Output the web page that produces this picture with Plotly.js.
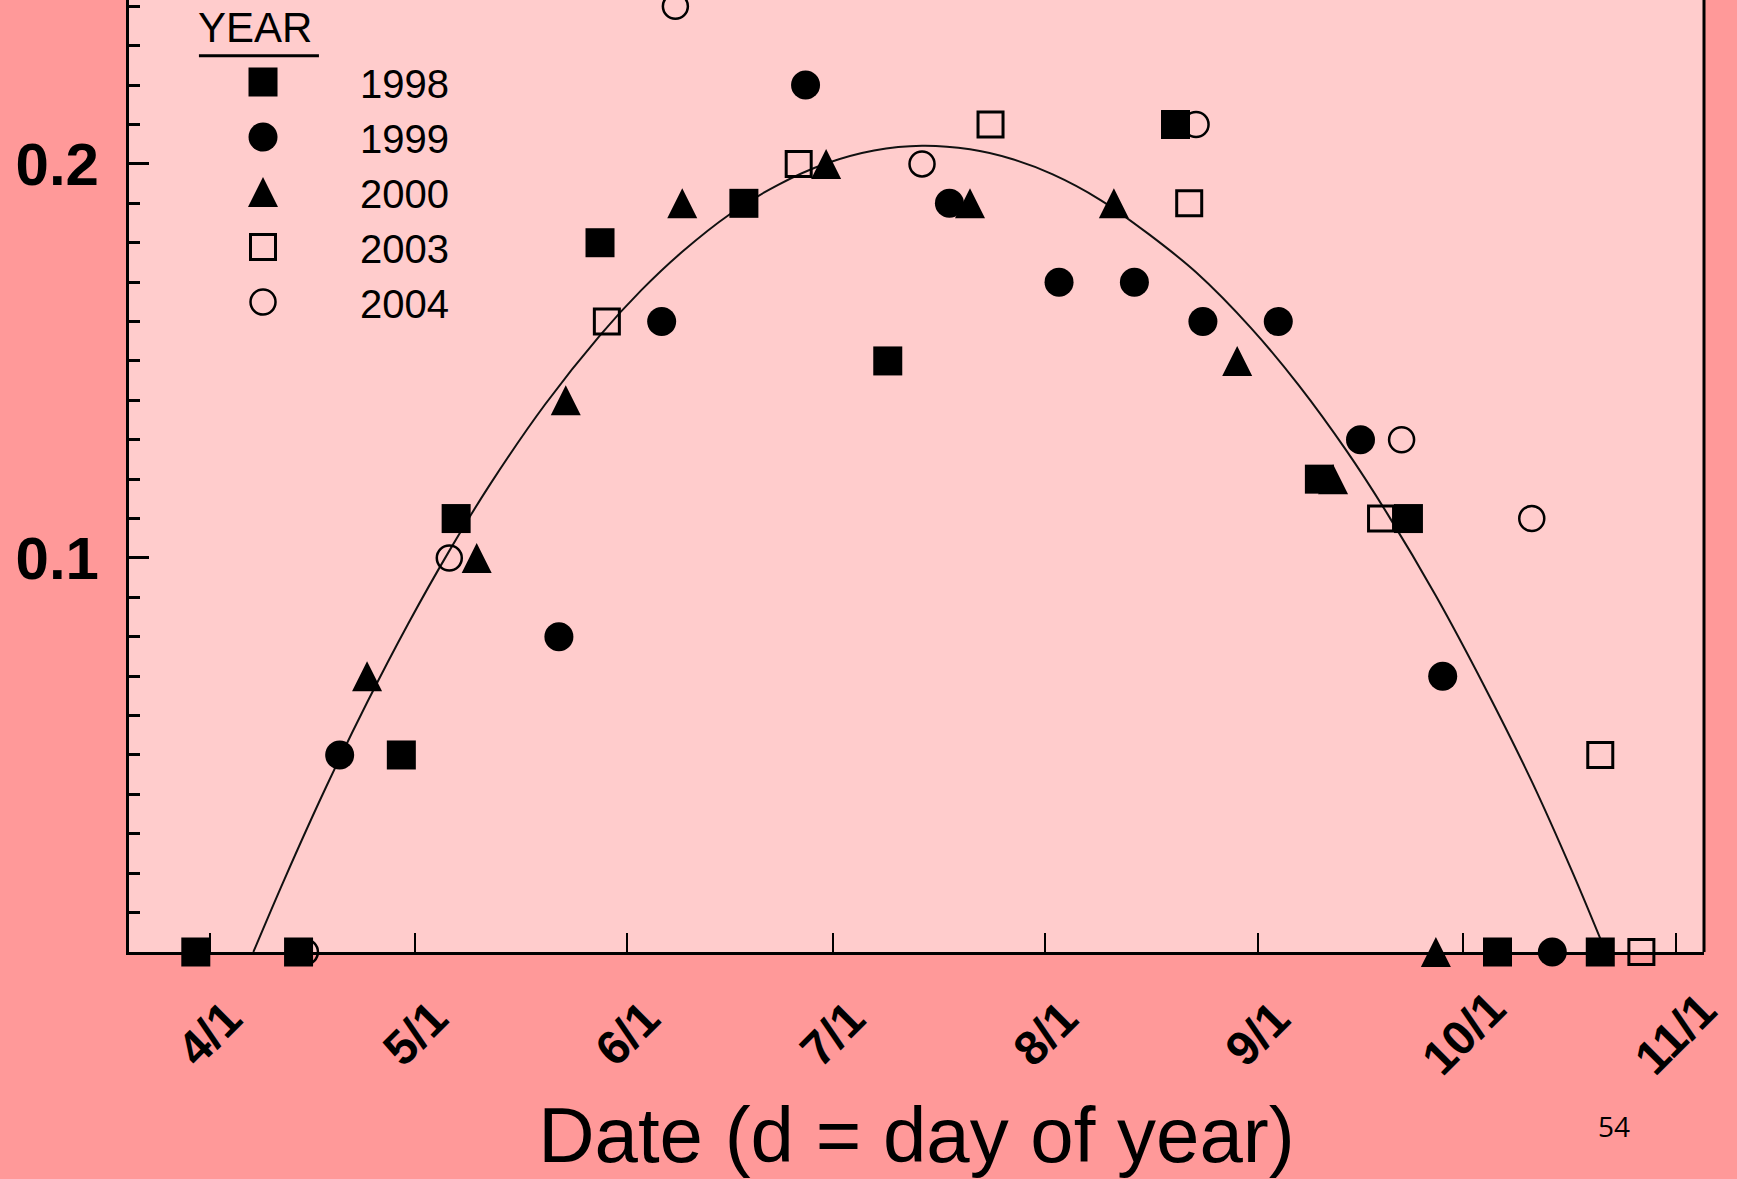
<!DOCTYPE html>
<html>
<head>
<meta charset="utf-8">
<script src="https://cdn.plot.ly/plotly-3.0.1.min.js"></script>
<style>
  html, body { margin: 0; padding: 0; background: #FF9999; }
  #chart { width: 1737px; height: 1179px; }
</style>
</head>
<body>
<div id="chart"></div>
<script>
// Fraction of positive samples by day of year, five seasons, with a fitted seasonal curve.

// Month starts (day of year) used for the x ticks
const monthDays = [91, 121, 152, 182, 213, 244, 274, 305];
const monthLabels = ['4/1', '5/1', '6/1', '7/1', '8/1', '9/1', '10/1', '11/1'];

// y ticks
const yTickVals = [0.1, 0.2];
const yTickText = ['0.1', '0.2'];

// Observations per year: day of year and value
const day1998 = [89, 104, 119, 127, 148, 169, 190, 232, 253, 266, 279, 294];
const val1998 = [0, 0, 0.05, 0.11, 0.18, 0.19, 0.15, 0.21, 0.12, 0.11, 0, 0];

const day1999 = [110, 142, 157, 178, 199, 215, 226, 236, 247, 259, 271, 287];
const val1999 = [0.05, 0.08, 0.16, 0.22, 0.19, 0.17, 0.17, 0.16, 0.16, 0.13, 0.07, 0];

const day2000 = [114, 130, 143, 160, 181, 202, 223, 241, 255, 270];
const val2000 = [0.07, 0.10, 0.14, 0.19, 0.20, 0.19, 0.19, 0.15, 0.12, 0];

const day2003 = [149, 177, 205, 234, 262, 294, 300];
const val2003 = [0.16, 0.20, 0.21, 0.19, 0.11, 0.05, 0];

const day2004 = [105, 126, 159, 195, 235, 265, 284];
const val2004 = [0, 0.10, 0.24, 0.20, 0.21, 0.13, 0.11];

// Fitted seasonal curve
const fitDay = [97.4, 102, 108, 114, 120, 126, 132, 140, 148, 154, 160, 167, 174, 181, 188, 195,
                202, 208, 214, 221, 228, 235, 243, 250, 257, 263, 270, 277, 284, 290, 294.8];
const fitVal = [0, 0.0187, 0.0418, 0.0633, 0.0833, 0.1018, 0.1188, 0.1390, 0.1565, 0.1679, 0.1777,
                0.1873, 0.1947, 0.2001, 0.2034, 0.2046, 0.2037, 0.2013, 0.1974, 0.1909, 0.1823,
                0.1725, 0.1584, 0.1438, 0.1271, 0.1110, 0.0904, 0.0677, 0.0433, 0.0200, 0];

const FONT = 'Liberation Sans, Arial, Helvetica, sans-serif';
const INK = '#000000';
const TRI = 30;   // triangle marker size

const fitTrace = {
  x: fitDay, y: fitVal, type: 'scatter', mode: 'lines',
  line: { color: '#111111', width: 2, shape: 'spline', smoothing: 1 },
  showlegend: false, hoverinfo: 'skip', cliponaxis: false
};

function yearTrace(name, xs, ys, marker, rank) {
  return {
    name: name, x: xs, y: ys, type: 'scatter', mode: 'markers',
    marker: marker, legendrank: rank, cliponaxis: false
  };
}

const traces = [
  fitTrace,
  yearTrace('2003', day2003, val2003,
    { symbol: 'square-open', size: 25, color: INK, line: { color: INK, width: 3 } }, 4),
  yearTrace('2004', day2004, val2004,
    { symbol: 'circle-open', size: 25, color: INK, line: { color: INK, width: 2.5 } }, 5),
  yearTrace('1999', day1999, val1999,
    { symbol: 'circle', size: 29, color: INK, line: { width: 0 } }, 2),
  // upright triangle centred on the point: a downward arrow turned half a turn, pushed back by its radius
  yearTrace('2000', day2000, val2000,
    { symbol: 'arrow-down', angle: 180, standoff: TRI / 2, size: TRI, color: INK, line: { width: 0 } }, 3),
  yearTrace('1998', day1998, val1998,
    { symbol: 'square', size: 29, color: INK, line: { width: 0 } }, 1)
];

// rotated month labels, centred under each tick
const monthAnnotations = monthDays.map(function (d, i) {
  return {
    x: d, xref: 'x', y: -0.0856, yref: 'paper',
    text: monthLabels[i], showarrow: false, textangle: -45,
    xanchor: 'center', yanchor: 'middle',
    font: { family: FONT, size: 48, color: INK, weight: 700 }
  };
});

const layout = {
  width: 1737, height: 1179,
  paper_bgcolor: '#FF9999',
  plot_bgcolor: '#FFCCCC',
  margin: { l: 129, r: 33, t: 0, b: 227 },
  font: { family: FONT, color: INK },
  showlegend: true,
  legend: {
    x: 0.0235, y: 0.948, xanchor: 'left', yanchor: 'top',
    xref: 'paper', yref: 'paper',
    bgcolor: 'rgba(0,0,0,0)', borderwidth: 0,
    itemwidth: 184, traceorder: 'normal',
    font: { family: FONT, size: 40, color: INK }
  },
  xaxis: {
    range: [79.25, 309.14],
    tickmode: 'array', tickvals: monthDays, ticktext: monthLabels,
    showticklabels: false,
    ticks: 'inside', ticklen: 19, tickwidth: 2, tickcolor: INK,
    showline: true, linecolor: INK, linewidth: 3,
    showgrid: false, zeroline: false,
    title: { text: 'Date (d = day of year)', font: { family: FONT, size: 78, color: INK }, standoff: 155 }
  },
  yaxis: {
    range: [0, 0.2416],
    tickmode: 'array', tickvals: yTickVals, ticktext: yTickText,
    ticks: 'inside', ticklen: 20, tickwidth: 3, tickcolor: INK,
    minor: { tick0: 0, dtick: 0.01, ticks: 'inside', ticklen: 11, tickwidth: 3, tickcolor: INK, showgrid: false },
    tickfont: { family: FONT, size: 60, color: INK, weight: 700 },
    ticklabelstandoff: 15,
    showline: true, linecolor: INK, linewidth: 3,
    showgrid: false, zeroline: false
  },
  shapes: [
    // right frame edge
    { type: 'line', xref: 'paper', yref: 'paper', x0: 1, x1: 1, y0: 0, y1: 1,
      line: { color: INK, width: 3 } },
    // rule under the legend heading
    { type: 'line', xref: 'paper', yref: 'paper', x0: 0.0444, x1: 0.1206, y0: 0.9415, y1: 0.9415,
      line: { color: INK, width: 3 } }
  ],
  annotations: monthAnnotations.concat([
    { x: 0.0803, xref: 'paper', y: 0.9706, yref: 'paper', text: 'YEAR', showarrow: false,
      xanchor: 'center', yanchor: 'middle', font: { family: FONT, size: 42, color: INK } },
    { x: 0.9427, xref: 'paper', y: -0.1828, yref: 'paper', text: '54', showarrow: false,
      xanchor: 'center', yanchor: 'middle', font: { family: 'Open Sans, sans-serif', size: 28, color: INK } }
  ])
};

const gd = document.getElementById('chart');
Plotly.newPlot(gd, traces, layout, { staticPlot: true, displayModeBar: false }).then(function () {
  // legend symbols are capped in size by the library; give them the same outline as the plotted points
  const legendItems = gd.querySelectorAll('.legend .traces');
  const plotGroups = gd.querySelectorAll('.scatterlayer .trace');
  legendItems.forEach(function (item) {
    const label = item.querySelector('.legendtext');
    if (!label) return;
    const idx = traces.findIndex(function (t) { return t.name === label.textContent; });
    if (idx < 0 || !plotGroups[idx]) return;
    const src = plotGroups[idx].querySelector('path.point');
    const dst = item.querySelector('.legendpoints path.scatterpts');
    if (src && dst) dst.setAttribute('d', src.getAttribute('d'));
  });
});
</script>
</body>
</html>
